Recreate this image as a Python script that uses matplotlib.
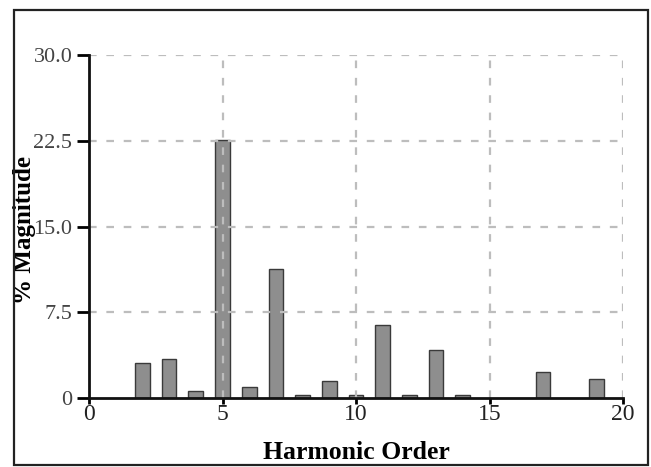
import matplotlib
matplotlib.use("Agg")
import matplotlib.pyplot as plt
from matplotlib.patches import Rectangle

# harmonic spectrum, % of fundamental
orders = [2, 3, 4, 5, 6, 7, 8, 9, 10, 11, 12, 13, 14, 17, 19]
magnitude = [3.1, 3.4, 0.65, 22.6, 0.95, 11.3, 0.25, 1.45, 0.25, 6.4, 0.25, 4.2, 0.25, 2.25, 1.7]

yticks = [0, 7.5, 15, 22.5, 30]
ytick_labels = ["0", "7.5", "15.0", "22.5", "30.0"]
xticks = [0, 5, 10, 15, 20]

plt.rcParams['font.family'] = ['Liberation Serif', 'DejaVu Serif']
plt.rcParams['lines.scale_dashes'] = False

fig = plt.figure(figsize=(6.51, 4.67), dpi=100)
ax = fig.add_axes([89/651, 1 - 398/467, 534/651, 343/467])

ax.bar(orders, magnitude, width=0.55, color='#8e8e8e', edgecolor='#3a3a3a',
       linewidth=1.0, zorder=2)

ax.set_xlim(0, 20)
ax.set_ylim(0, 30)
ax.set_xticks(xticks)
ax.set_yticks(yticks)
ax.set_yticklabels(ytick_labels)

# dashed grid drawn over the bars
for x in xticks[1:]:
    ax.plot([x, x], [0, 30], color='#bdbdbd', lw=1.6, dashes=(5.5, 7), zorder=3)
for y in yticks[1:]:
    ax.plot([0, 20], [y, y], color='#bdbdbd', lw=1.6, dashes=(5.5, 7), zorder=3)

for s in ('top', 'right'):
    ax.spines[s].set_visible(False)
for s in ('left', 'bottom'):
    ax.spines[s].set_linewidth(2.0)
    ax.spines[s].set_color('#111111')
    ax.spines[s].set_zorder(4)

ax.tick_params(axis='y', direction='out', length=9, width=2, pad=3,
               labelsize=16, labelcolor='#444444')
ax.tick_params(axis='x', direction='out', length=4, width=2, pad=0,
               labelsize=17, labelcolor='#222222')

ax.set_xlabel("Harmonic Order", fontsize=18.5, fontweight='bold')
ax.xaxis.set_label_coords(0.5, -0.125)
ax.set_ylabel("% Magnitude", fontsize=18, fontweight='bold')
ax.yaxis.set_label_coords(-0.1, 0.49)

# outer frame around the whole figure
fig.patches.append(Rectangle((14/651, 2/467), 634/651, 455/467,
                             transform=fig.transFigure, fill=False,
                             edgecolor='#222222', linewidth=1.6))

fig.savefig("out.png", dpi=100)
